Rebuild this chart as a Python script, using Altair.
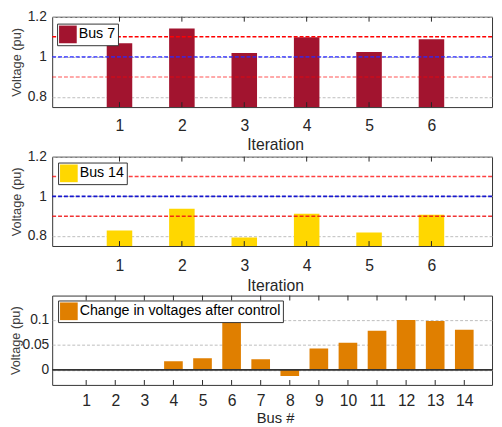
import altair as alt
import pandas as pd

# ---- data ----
iterations = [1, 2, 3, 4, 5, 6]
bus7_v = [1.068, 1.141, 1.020, 1.098, 1.024, 1.088]
bus14_v = [0.828, 0.937, 0.793, 0.912, 0.818, 0.907]
bus_ids = list(range(1, 15))
delta_v = [0.0006, 0.0006, 0.0006, 0.017, 0.023, 0.100, 0.021, -0.012,
           0.0425, 0.054, 0.078, 0.0995, 0.0975, 0.080]
upper_limit = [1.1]
nominal = [1.0]
lower_limit = [0.9]
zero_line = [0.0]

FONT = "Liberation Sans"
W = 448
DARK = "#262626"


def x_enc(field, domain, values, title, lab_pad, title_pad, title_size=16):
    return alt.X(f"{field}:Q",
                 scale=alt.Scale(domain=domain, nice=False, zero=False),
                 axis=alt.Axis(values=values, title=title, grid=False, domain=False,
                               tickSize=0, labelPadding=lab_pad, titlePadding=title_pad,
                               labelFontSize=16, titleFontSize=title_size,
                               titleFontWeight="normal",
                               labelColor=DARK, titleColor=DARK, titleX=W / 2 + 3,
                               labelFlush=False))


def y_enc(domain, values, lab_pad=6, title_pad=4):
    return alt.Y("V:Q",
                 scale=alt.Scale(domain=domain, nice=False, zero=False),
                 axis=alt.Axis(values=values, format="~g", title="Voltage (pu)",
                               grid=True, gridDash=[3, 2], gridColor="#bdbdbd",
                               domain=False, tickSize=0, labelPadding=lab_pad,
                               titlePadding=title_pad, labelFontSize=14,
                               titleFontSize=13, titleFontWeight="normal",
                               labelColor=DARK, titleColor="#404040"))


def legend(lx, ly):
    return alt.Legend(title=None, orient="none", legendX=lx, legendY=ly,
                      fillColor="white", strokeColor="#333333", padding=2,
                      symbolType="square", symbolSize=324, symbolStrokeWidth=0,
                      labelFontSize=14.5, labelOffset=2, labelColor="black",
                      labelLimit=400, labelFont=FONT)


def tick_layers(df, field, xe, h):
    bottom = alt.Chart(df).mark_rule(color=DARK, strokeWidth=1).encode(
        x=xe, y=alt.value(h), y2=alt.value(h - 5))
    top = alt.Chart(df).mark_rule(color=DARK, strokeWidth=1).encode(
        x=xe, y=alt.value(0), y2=alt.value(5))
    return [bottom, top]


def line_layer(vals, ye, color, opacity, dash):
    return alt.Chart(pd.DataFrame({"V": vals})).mark_rule(
        color=color, opacity=opacity, strokeDash=dash, strokeWidth=1.6).encode(y=ye)


def voltage_panel(vals, name, color, h, lx, ly, lab_pad, title_pad, line_style):
    df = pd.DataFrame({"Iteration": iterations, "V": vals, "series": [name] * len(vals)})
    xe = x_enc("Iteration", [0, W / 65.0], iterations, "Iteration", lab_pad, title_pad)
    ye = y_enc([0.75, 1.2], [0.8, 1.0, 1.2])
    bars = alt.Chart(df).mark_bar(size=26, clip=True).encode(
        x=xe, y=ye,
        color=alt.Color("series:N", scale=alt.Scale(domain=[name], range=[color]),
                        legend=legend(lx, ly)))
    lines = [
        line_layer(upper_limit, ye, *line_style[0]),
        line_layer(nominal, ye, *line_style[1]),
        line_layer(lower_limit, ye, *line_style[2]),
    ]
    return alt.layer(bars, *lines, *tick_layers(df, "Iteration", xe, h)).properties(
        width=W, height=h)


p1 = voltage_panel(bus7_v, "Bus 7", "#A2142F", 92, 5, 7, 11, 3,
                   [("#FF0000", 1.0, [4, 2]), ("#2a2aff", 0.75, [4, 2]),
                    ("#FF0000", 0.45, [4, 2])])
p2 = voltage_panel(bus14_v, "Bus 14", "#FFD700", 91, 6, 6, 12, 4,
                   [("#FF0000", 0.75, [4, 2]), ("#0000CC", 0.9, [4, 2]),
                    ("#EE1111", 0.85, [4, 2])])

df3 = pd.DataFrame({"Bus": bus_ids, "V": delta_v,
                    "series": ["Change in voltages after control"] * len(bus_ids)})
xe3 = x_enc("Bus", [0, W / 30.3], bus_ids, "Bus #", 8, 2, title_size=15)
ye3 = y_enc([-0.03, 0.148], [0, 0.05, 0.1], lab_pad=3.5, title_pad=0)
bars3 = alt.Chart(df3).mark_bar(size=19, clip=True).encode(
    x=xe3, y=ye3,
    color=alt.Color("series:N",
                    scale=alt.Scale(domain=["Change in voltages after control"],
                                    range=["#E07F00"]),
                    legend=legend(6, 5)))
zero3 = line_layer(zero_line, ye3, "#333333", 1.0, [1, 0])
p3 = alt.layer(bars3, zero3, *tick_layers(df3, "Bus", xe3, 91)).properties(
    width=W, height=91)

chart = alt.vconcat(p1, p2, p3, spacing=50.5, bounds="flush").resolve_scale(
    color="independent", x="independent", y="independent"
).resolve_legend(color="independent").properties(
    padding={"left": 0, "top": -3, "right": 0, "bottom": 0}
).configure_view(stroke="#333333", strokeWidth=1).configure_axis(
    labelFont=FONT, titleFont=FONT
).configure_legend(labelFont=FONT)

chart.save("out.html", embed_options={"renderer": "svg", "actions": False})
